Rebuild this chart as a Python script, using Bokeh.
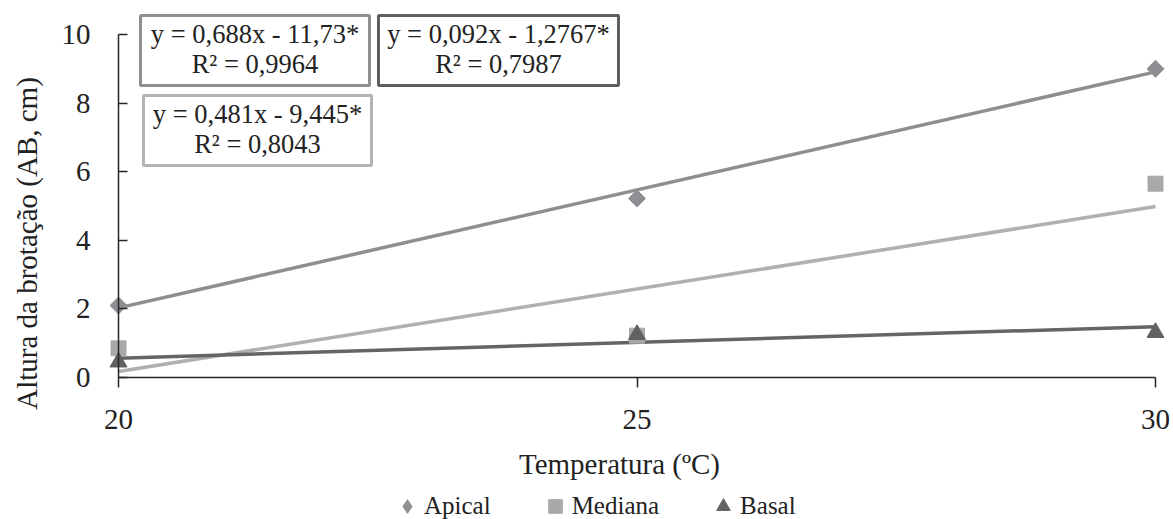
import math
from bokeh.plotting import figure
from bokeh.models import Range1d, FixedTicker, BoxAnnotation, Label, Legend, LegendItem
from bokeh.embed import file_html
from bokeh.resources import INLINE

# ---- data ----
temps = [20, 25, 30]
apical = [2.10, 5.22, 9.00]
mediana = [0.85, 1.22, 5.65]
basal = [0.45, 1.25, 1.31]

fit_x = [20, 30]
apical_fit = [2.03, 8.91]
mediana_fit = [0.175, 4.985]
basal_fit = [0.563, 1.483]

x_ticks = [20, 25, 30]
y_ticks = [0, 2, 4, 6, 8, 10]

series_names = ["Apical", "Mediana", "Basal"]
eq_apical = ["y = 0,688x - 11,73*", "R² = 0,9964"]
eq_basal = ["y = 0,092x - 1,2767*", "R² = 0,7987"]
eq_mediana = ["y = 0,481x - 9,445*", "R² = 0,8043"]

x_title = "Temperatura (ºC)"
y_title = "Altura da brotação (AB, cm)"

# ---- styles / geometry ----
FONT = "Liberation Serif"
TXT = "#222222"
AX = "#262626"
C_AP = "#8d8f93"
C_ME = "#aba8a8"
C_BA = "#626262"
L_AP = "#8e8e8e"
L_ME = "#b1afaf"
L_BA = "#656565"

W, H = 1173, 519
SX = 103.7   # px per x unit  (x=20 at px 118)
SY = 34.3    # px per y unit  (y=10 at px 34)
xstart = 20 - 118 / SX
xend = xstart + W / SX
yend = 10 + 34 / SY
ystart = yend - H / SY


def dx(px):
    return xstart + px / SX


def dy(py):
    return yend - py / SY


p = figure(width=W, height=H,
           x_range=Range1d(xstart, xend), y_range=Range1d(ystart, yend),
           output_backend="svg", toolbar_location=None,
           min_border_left=0, min_border_right=0, min_border_top=0, min_border_bottom=0)
p.outline_line_color = None
p.grid.visible = False
p.background_fill_color = "white"
p.border_fill_color = "white"


def style(ax):
    ax.axis_line_color = AX
    ax.axis_line_width = 1.5
    ax.major_tick_line_color = AX
    ax.major_tick_line_width = 1.5
    ax.minor_tick_line_color = None
    ax.major_label_text_font = FONT
    ax.major_label_text_font_size = "29px"
    ax.major_label_text_color = TXT


xa = p.xaxis[0]
style(xa)
xa.ticker = FixedTicker(ticks=x_ticks)
xa.bounds = (20, 30)
xa.fixed_location = 0
xa.major_tick_in = 0
xa.major_tick_out = 10
xa.major_label_standoff = 22

ya = p.yaxis[0]
style(ya)
ya.ticker = FixedTicker(ticks=y_ticks)
ya.bounds = (0, 10)
ya.fixed_location = 20
ya.major_tick_in = 9
ya.major_tick_out = 0
ya.major_label_standoff = 28

# axis titles
p.add_layout(Label(x=dx(619), y=dy(463), text=x_title, text_align="center",
                   text_baseline="middle", text_font=FONT, text_font_size="29px",
                   text_color=TXT))
p.add_layout(Label(x=dx(26), y=dy(243), text=y_title, angle=math.pi / 2,
                   text_align="center", text_baseline="middle", text_font=FONT,
                   text_font_size="29px", text_color=TXT))

# trendlines
p.line(fit_x, apical_fit, line_color=L_AP, line_width=3.5)
p.line(fit_x, mediana_fit, line_color=L_ME, line_width=3.5)
p.line(fit_x, basal_fit, line_color=L_BA, line_width=3.5)

# markers (the diamond key sits fully under the rotated square; legends do not rotate markers)
r_ap_key = p.scatter(temps, apical, marker="diamond", size=16, fill_color=C_AP, line_color=C_AP)
r_ap = p.scatter(temps, apical, marker="square", angle=math.pi / 4, size=12,
                 fill_color=C_AP, line_color=C_AP)
r_me = p.scatter(temps, mediana, marker="square", size=15, fill_color=C_ME, line_color=C_ME)
r_ba = p.scatter(temps, basal, marker="triangle", size=17, fill_color=C_BA, line_color=C_BA)

# equation boxes
boxes = [
    (140, 369, 15, 85, "#8f8f8f", eq_apical),
    (378, 618, 15, 85, "#5f5f5f", eq_basal),
    (143, 371, 95, 165, "#b3b3b3", eq_mediana),
]
for (l, r, t, b, col, lines) in boxes:
    p.add_layout(BoxAnnotation(left=dx(l), right=dx(r), top=dy(t), bottom=dy(b),
                               fill_color="white", fill_alpha=1.0,
                               line_color=col, line_width=3, line_alpha=1.0))
for (l, r, t, b, col, lines) in boxes:
    cx = dx((l + r) / 2)
    for k, txt in enumerate(lines):
        p.add_layout(Label(x=cx, y=dy(t + 18 + 30 * k), text=txt, text_align="center",
                           text_baseline="middle", text_font=FONT,
                           text_font_size="26.5px", text_color=TXT))

legend = Legend(items=[LegendItem(label=series_names[0], renderers=[r_ap_key]),
                       LegendItem(label=series_names[1], renderers=[r_me]),
                       LegendItem(label=series_names[2], renderers=[r_ba])],
                orientation="horizontal", location=(390, -4),
                glyph_width=34, glyph_height=34, label_standoff=0, spacing=47,
                padding=0, margin=0, border_line_color=None,
                background_fill_alpha=0,
                label_text_font=FONT, label_text_font_size="25px", label_text_color=TXT)
p.add_layout(legend, "center")

open("out.html", "w").write(file_html(p, INLINE))
